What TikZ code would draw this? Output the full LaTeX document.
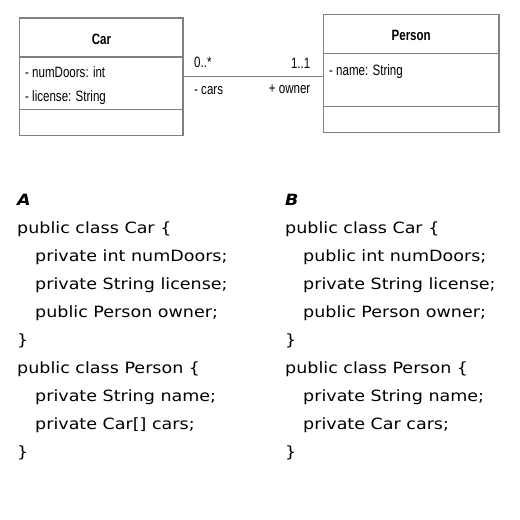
\documentclass[tikz,border=0pt]{standalone}
\usepackage{fontspec}
\newfontfamily\umlfont[FakeStretch=0.77]{Liberation Sans}
\newfontfamily\codefont[FakeStretch=1.13]{DejaVu Sans}
\begin{document}
\begin{tikzpicture}[x=1pt,y=-1pt,
  umlbox/.style={draw=black!50, line width=1.2pt, rectangle, inner sep=0pt, fill=white},
  sepline/.style={draw=black!50, line width=1.2pt},
  assoc/.style={draw=black!50, line width=1.2pt},
  umltext/.style={font=\umlfont\fontsize{15}{17}\selectfont, inner sep=0pt},
  umltitle/.style={font=\umlfont\bfseries\fontsize{15}{17}\selectfont, inner sep=0pt},
  code/.style={font=\codefont\fontsize{15.5}{19}\selectfont, inner sep=0pt, anchor=base west},
  codehead/.style={font=\codefont\bfseries\itshape\fontsize{15.5}{19}\selectfont, inner sep=0pt, anchor=base west}]
\useasboundingbox[fill=white] (0,0) rectangle (520,520);
% Car class
\node[umlbox, minimum width=163.5pt, minimum height=117.5pt] (car) at (101.2,76.8) {};
\draw[sepline] ([yshift=-39.5pt]car.north west) -- ([yshift=-39.5pt]car.north east);
\draw[sepline] ([yshift=26.5pt]car.south west) -- ([yshift=26.5pt]car.south east);
\node[umltitle, anchor=base] (carname) at (101.5,44) {Car};
\node[umltext, anchor=base west] (cara1) at (25,77.5) {- numDoors: int};
\node[umltext, anchor=base west] (cara2) at (25,101.5) {- license: String};
% Person class
\node[umlbox, minimum width=175.5pt, minimum height=118.5pt] (person) at (411.2,73.5) {};
\draw[sepline] ([yshift=-39.5pt]person.north west) -- ([yshift=-39.5pt]person.north east);
\draw[sepline] ([yshift=26.5pt]person.south west) -- ([yshift=26.5pt]person.south east);
\node[umltitle, anchor=base] (personname) at (411.2,40.7) {Person};
\node[umltext, anchor=base west] (persona1) at (329,75) {- name: String};
% association
\draw[assoc] (car.east) -- (person.west |- car.east);
\node[umltext, anchor=base west] (m1) at (194,67) {0..*};
\node[umltext, anchor=base west] (r1) at (194,94) {- cars};
\node[umltext, anchor=base east] (m2) at (310.5,68) {1..1};
\node[umltext, anchor=base east] (r2) at (310.5,93) {+ owner};
% code A
\node[codehead] (ha) at (17,205) {A};
\node[code] (a1) at (17,233) {public class Car \{};
\node[code] (a2) at (35,261) {private int numDoors;};
\node[code] (a3) at (35,289) {private String license;};
\node[code] (a4) at (35,317) {public Person owner;};
\node[code] (a5) at (17,345) {\}};
\node[code] (a6) at (17,373) {public class Person \{};
\node[code] (a7) at (35,401) {private String name;};
\node[code] (a8) at (35,429) {private Car[] cars;};
\node[code] (a9) at (17,457) {\}};
% code B
\node[codehead] (hb) at (285,205) {B};
\node[code] (b1) at (285,233) {public class Car \{};
\node[code] (b2) at (303,261) {public int numDoors;};
\node[code] (b3) at (303,289) {private String license;};
\node[code] (b4) at (303,317) {public Person owner;};
\node[code] (b5) at (285,345) {\}};
\node[code] (b6) at (285,373) {public class Person \{};
\node[code] (b7) at (303,401) {private String name;};
\node[code] (b8) at (303,429) {private Car cars;};
\node[code] (b9) at (285,457) {\}};
\end{tikzpicture}
\end{document}
